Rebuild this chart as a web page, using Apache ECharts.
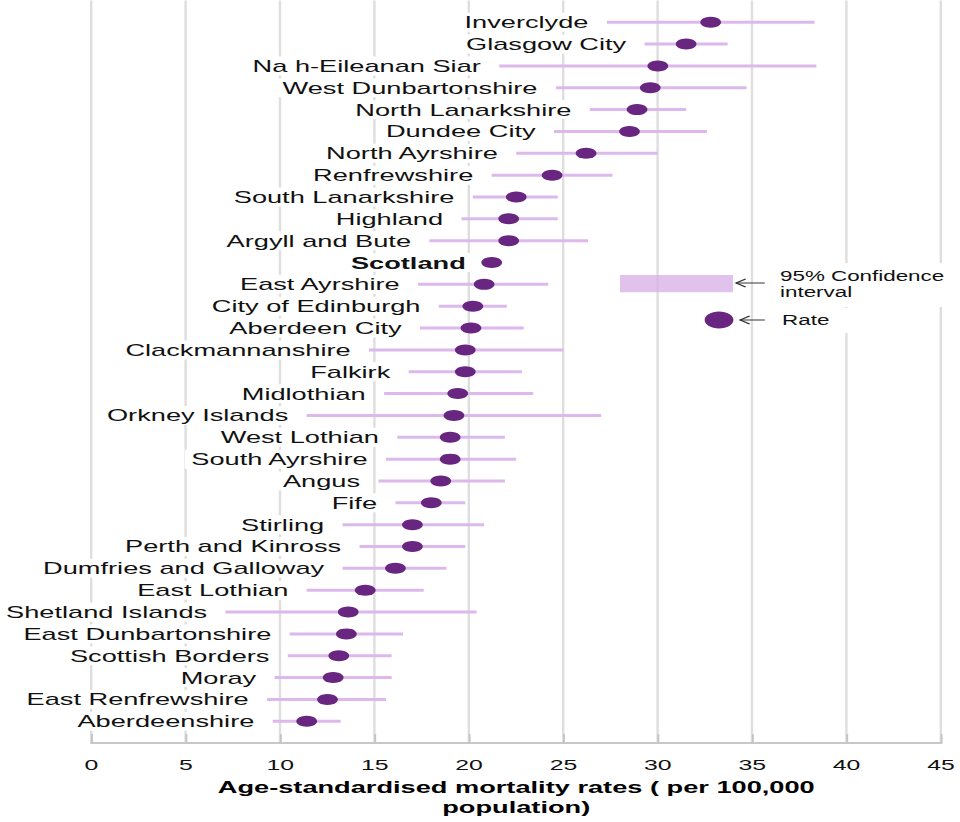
<!DOCTYPE html>
<html>
<head>
<meta charset="utf-8">
<script src="https://cdn.jsdelivr.net/npm/echarts@6/dist/echarts.min.js"></script>
<style>
  html, body { margin: 0; padding: 0; background: #fff; overflow: hidden; }
  #wrap { width: 960px; height: 822px; overflow: hidden; }
  #main { width: 600px; height: 822px; transform: scaleX(1.6); transform-origin: 0 0; }
</style>
</head>
<body>
<div id="wrap"><div id="main"></div></div>
<script>
const categories = [
  'Inverclyde', 'Glasgow City', 'Na h-Eileanan Siar', 'West Dunbartonshire',
  'North Lanarkshire', 'Dundee City', 'North Ayrshire', 'Renfrewshire',
  'South Lanarkshire', 'Highland', 'Argyll and Bute', 'Scotland',
  'East Ayrshire', 'City of Edinburgh', 'Aberdeen City', 'Clackmannanshire',
  'Falkirk', 'Midlothian', 'Orkney Islands', 'West Lothian', 'South Ayrshire',
  'Angus', 'Fife', 'Stirling', 'Perth and Kinross', 'Dumfries and Galloway',
  'East Lothian', 'Shetland Islands', 'East Dunbartonshire', 'Scottish Borders',
  'Moray', 'East Renfrewshire', 'Aberdeenshire'
];
const rates = [
  32.8, 31.5, 30.0, 29.6, 28.9, 28.5, 26.2, 24.4, 22.5, 22.1, 22.1, 21.2,
  20.8, 20.2, 20.1, 19.8, 19.8, 19.4, 19.2, 19.0, 19.0, 18.5, 18.0, 17.0,
  17.0, 16.1, 14.5, 13.6, 13.5, 13.1, 12.8, 12.5, 11.4
];
const ciLow = [
  27.3, 29.3, 21.6, 24.6, 26.4, 24.5, 22.5, 21.2, 20.2, 19.6, 17.9, 20.8,
  17.3, 18.4, 17.4, 14.7, 16.8, 15.5, 11.4, 16.2, 15.6, 15.2, 16.1, 13.3,
  14.2, 13.3, 11.4, 7.1, 10.5, 10.4, 9.7, 9.3, 9.6
];
const ciHigh = [
  38.3, 33.7, 38.4, 34.7, 31.5, 32.6, 30.0, 27.6, 24.7, 24.7, 26.3, 21.6,
  24.2, 22.0, 22.9, 25.0, 22.8, 23.4, 27.0, 21.9, 22.5, 21.9, 19.8, 20.8,
  19.8, 18.8, 17.6, 20.4, 16.5, 15.9, 15.9, 15.6, 13.2
];
const highlighted = 'Scotland';
const axisTitle = 'Age-standardised mortality rates ( per 100,000\npopulation)';
const legendCI = '95% Confidence\ninterval';
const legendRate = 'Rate';

const FONT = "'Liberation Sans', Arial, Helvetica, sans-serif";
const PURPLE = '#682680';
const LILAC = '#dcb8ec';

const chart = echarts.init(document.getElementById('main'), null, { renderer: 'svg', width: 600, height: 822 });

const option = {
  animation: false,
  backgroundColor: '#ffffff',
  textStyle: { fontFamily: FONT },
  grid: { left: 57.2, right: 11.9, top: 0.4, bottom: 75.7, containLabel: false },
  xAxis: {
    type: 'value', min: 0, max: 45, interval: 5,
    axisLine: { show: true, onZero: false, lineStyle: { color: '#c8c8c8', width: 2 } },
    axisTick: { show: true, inside: true, length: 9, lineStyle: { color: '#c4c4c4', width: 1.2 } },
    axisLabel: { fontSize: 15.5, color: '#111', margin: 13, fontFamily: FONT },
    splitLine: { show: true, lineStyle: { color: '#dedede', width: 1.5 } },
    name: axisTitle, nameLocation: 'middle', nameGap: 33,
    nameTextStyle: { fontWeight: 'bold', fontSize: 17, lineHeight: 20, color: '#000', fontFamily: FONT }
  },
  yAxis: {
    type: 'value', inverse: true, min: -1, max: 33, show: false,
    axisLine: { show: false, onZero: false },
    splitLine: { show: false }
  },
  series: [
    {
      type: 'custom',
      name: 'CI',
      data: categories.map((c, i) => [ciLow[i], ciHigh[i], i]),
      encode: { x: [0, 1], y: 2 },
      renderItem: function (params, api) {
        const p1 = api.coord([api.value(0), api.value(2)]);
        const p2 = api.coord([api.value(1), api.value(2)]);
        return {
          type: 'line',
          shape: { x1: p1[0], y1: p1[1], x2: p2[0], y2: p2[1] },
          style: { stroke: LILAC, lineWidth: 3 }
        };
      },
      z: 2
    },
    {
      type: 'scatter',
      name: 'Rate',
      data: rates.map((r, i) => [r, i]),
      symbol: 'circle',
      symbolSize: [13, 11],
      itemStyle: { color: PURPLE, opacity: 1 },
      z: 3
    },
    {
      type: 'custom',
      name: 'Labels',
      data: categories.map((c, i) => [ciLow[i], i]),
      encode: { x: 0, y: 1 },
      renderItem: function (params, api) {
        const p = api.coord([api.value(0), api.value(1)]);
        const name = categories[params.dataIndex];
        return {
          type: 'text',
          x: p[0] - 8.5,
          y: p[1],
          style: {
            text: name,
            align: 'right',
            verticalAlign: 'middle',
            fontSize: 17,
            fontFamily: FONT,
            fontWeight: name === highlighted ? 'bold' : 'normal',
            fill: '#111',
            backgroundColor: '#ffffff',
            padding: [1, 3]
          }
        };
      },
      z: 4
    }
  ],
  graphic: [
    { type: 'rect', shape: { x: 387.5, y: 275, width: 70.6, height: 17.3 }, style: { fill: '#d6aee6', opacity: 0.75 }, z: 10 },
    { type: 'polyline', shape: { points: [[466, 279], [460, 283], [466, 287]] }, style: { stroke: '#333', lineWidth: 1, fill: null }, z: 10 },
    { type: 'line', shape: { x1: 460, y1: 283, x2: 478, y2: 283 }, style: { stroke: '#333', lineWidth: 1 }, z: 10 },
    { type: 'rect', shape: { x: 484, y: 263, width: 114, height: 44 }, style: { fill: '#ffffff' }, z: 10 },
    { type: 'text', x: 487.5, y: 284, style: { text: legendCI, fontSize: 14, lineHeight: 16, fontFamily: FONT, fill: '#111', verticalAlign: 'middle', align: 'left' }, z: 11 },
    { type: 'ellipse', shape: { cx: 449.4, cy: 320, rx: 9, ry: 8.5 }, style: { fill: PURPLE }, z: 10 },
    { type: 'polyline', shape: { points: [[468.5, 316], [462.5, 320], [468.5, 324]] }, style: { stroke: '#333', lineWidth: 1, fill: null }, z: 10 },
    { type: 'line', shape: { x1: 462.5, y1: 320, x2: 478, y2: 320 }, style: { stroke: '#333', lineWidth: 1 }, z: 10 },
    { type: 'rect', shape: { x: 484, y: 308, width: 51, height: 25 }, style: { fill: '#ffffff' }, z: 10 },
    { type: 'text', x: 488.8, y: 320, style: { text: legendRate, fontSize: 14, fontFamily: FONT, fill: '#111', verticalAlign: 'middle', align: 'left' }, z: 11 }
  ]
};
chart.setOption(option);
</script>
</body>
</html>
